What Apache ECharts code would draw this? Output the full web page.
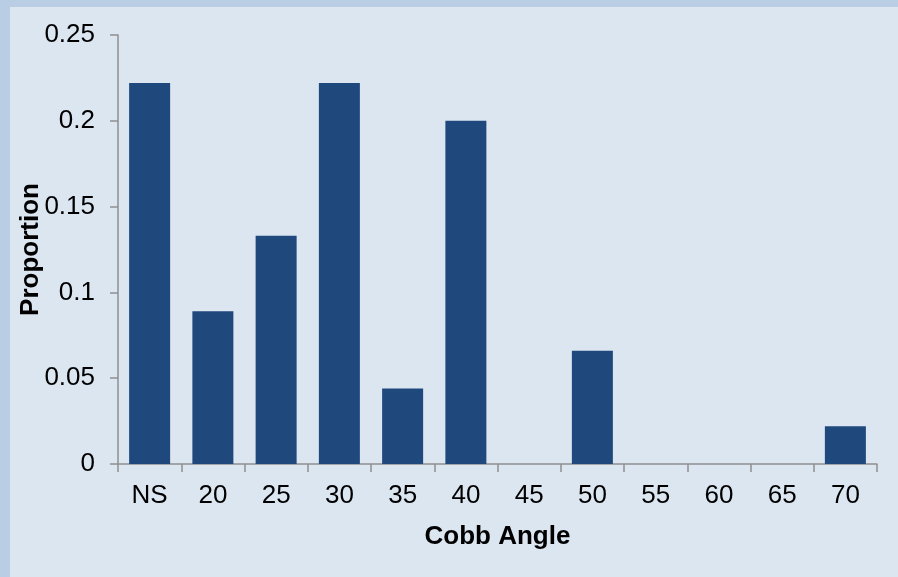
<!DOCTYPE html>
<html>
<head>
<meta charset="utf-8">
<style>
    html, body { margin: 0; padding: 0; background: #b9cde5; }
    #chart { position: absolute; left: 10px; top: 7px; width: 888px; height: 570px; background: #dce6f1; }
</style>
<script src="https://cdn.jsdelivr.net/npm/echarts@6/dist/echarts.min.js"></script>
</head>
<body>
<div id="chart"></div>
<script type="text/javascript">
    // 分类与比例
    var angles = ['NS', '20', '25', '30', '35', '40', '45', '50', '55', '60', '65', '70'];
    var proportions = [0.222, 0.089, 0.133, 0.222, 0.044, 0.2, 0, 0.066, 0, 0, 0, 0.022];
    var yTicks = [0, 0.05, 0.1, 0.15, 0.2, 0.25];

    var myChart = echarts.init(document.getElementById('chart'));

    var axisColor = '#8f8f8f';
    var font = 'Liberation Sans, Arial, sans-serif';

    var option = {
        animation: false,
        grid: {
            left: 108,
            right: 21,
            top: 28,
            bottom: 113,
            containLabel: false,
            outerBoundsMode: 'none'
        },
        xAxis: {
            type: 'category',
            data: angles,
            name: 'Cobb Angle',
            nameLocation: 'middle',
            nameGap: 60,
            nameMoveOverlap: false,
            nameTextStyle: { color: '#000', fontFamily: font, fontSize: 26, fontWeight: 'bold' },
            axisLine: { lineStyle: { color: axisColor, width: 1.5 } },
            axisTick: { show: true, alignWithLabel: false, length: 8, lineStyle: { color: axisColor, width: 1.5 } },
            axisLabel: { color: '#000', fontFamily: font, fontSize: 26, margin: 19 }
        },
        yAxis: {
            type: 'value',
            min: yTicks[0],
            max: yTicks[yTicks.length - 1],
            interval: 0.05,
            name: 'Proportion',
            nameLocation: 'middle',
            nameGap: 74,
            nameRotate: 90,
            nameMoveOverlap: false,
            nameTextStyle: { color: '#000', fontFamily: font, fontSize: 26, fontWeight: 'bold' },
            splitLine: { show: false },
            axisLine: { show: true, lineStyle: { color: axisColor, width: 1.5 } },
            axisTick: { show: true, inside: false, length: 8, lineStyle: { color: axisColor, width: 1.5 } },
            axisLabel: {
                color: '#000', fontFamily: font, fontSize: 26, margin: 23,
                formatter: function (v) { return String(Math.round(v * 100) / 100); }
            }
        },
        series: [{
            type: 'bar',
            data: proportions,
            barWidth: 41,
            itemStyle: { color: '#1f497d' }
        }]
    };

    myChart.setOption(option);
</script>
</body>
</html>
